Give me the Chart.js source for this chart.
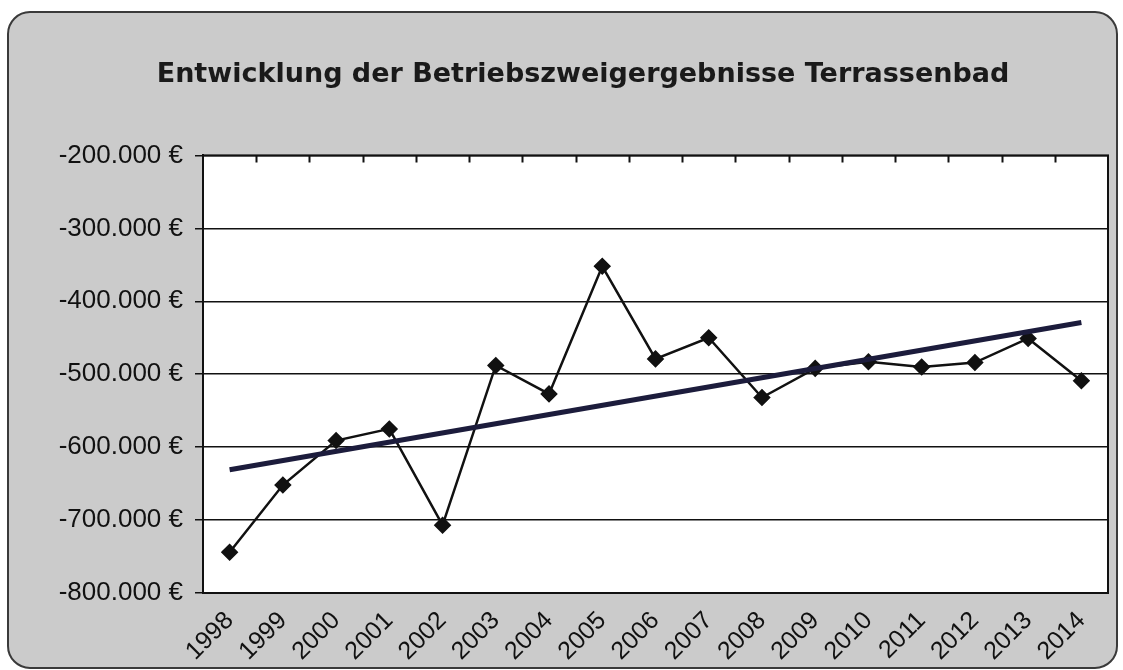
<!DOCTYPE html>
<html lang="de">
<head>
<meta charset="utf-8">
<title>Entwicklung der Betriebszweigergebnisse Terrassenbad</title>
<script src="https://cdn.jsdelivr.net/npm/chart.js@4.4.1/dist/chart.umd.min.js"></script>
<style>
  html, body { margin: 0; padding: 0; background: #fff; }
  #wrap { width: 1123px; height: 670px; position: relative; }
</style>
</head>
<body>
<div id="wrap"><canvas id="ergebnisChart"></canvas></div>
<script>
// Daten
const jahre = ['1998', '1999', '2000', '2001', '2002', '2003', '2004', '2005', '2006',
               '2007', '2008', '2009', '2010', '2011', '2012', '2013', '2014'];
const ergebnisse = [-744000, -652000, -591000, -575000, -707000, -488000, -527000, -352000, -479000,
                    -450000, -532000, -492000, -483000, -490000, -484000, -451000, -509000];
// Trendlinie: Anfangs- und Endwert
const trendWerte = [-631000, -429000];
// Achse
const yMin = -800000;
const yMax = -200000;
const yStep = 100000;

const trendDaten = jahre.map((j, i) => {
    if (i === 0) return trendWerte[0];
    if (i === jahre.length - 1) return trendWerte[1];
    return null;
});

function euro(v) {
    const s = Math.abs(v).toString().replace(/\B(?=(\d{3})+(?!\d))/g, '.');
    return (v < 0 ? '-' : '') + s + ' €';
}

const schrift = "'Liberation Sans', Arial, sans-serif";

// Hintergrundkarte und weiße Zeichenfläche
const hintergrund = {
    id: 'hintergrund',
    beforeDraw(chart) {
        const c = chart.ctx;
        const a = chart.chartArea;
        c.save();
        c.beginPath();
        c.roundRect(8, 12, 1109, 656, 22);
        c.fillStyle = '#cbcbcb';
        c.fill();
        c.lineWidth = 2;
        c.strokeStyle = '#3a3a3a';
        c.stroke();
        c.fillStyle = '#ffffff';
        c.fillRect(a.left, a.top, a.right - a.left, a.bottom - a.top);
        c.restore();
    },
    afterDatasetsDraw(chart) {
        const c = chart.ctx;
        const a = chart.chartArea;
        const x = chart.scales.x;
        c.save();
        c.strokeStyle = '#111';
        c.lineWidth = 2;
        c.strokeRect(a.left, a.top, a.right - a.left, a.bottom - a.top);
        // kleine Teilstriche oben zwischen den Kategorien
        c.beginPath();
        for (let i = 1; i < jahre.length; i++) {
            const px = Math.round((x.getPixelForValue(i - 1) + x.getPixelForValue(i)) / 2) + 0.5;
            c.moveTo(px, a.top);
            c.lineTo(px, a.top + 7);
        }
        c.stroke();
        c.restore();
    }
};

new Chart(document.getElementById('ergebnisChart'), {
    type: 'line',
    data: {
        labels: jahre,
        datasets: [{
            label: 'Ergebnis',
            data: ergebnisse,
            borderColor: '#111',
            backgroundColor: '#111',
            borderWidth: 2.5,
            pointStyle: 'rectRot',
            pointRadius: 7,
            pointBackgroundColor: '#111',
            pointBorderColor: '#111',
            tension: 0,
            order: 2
        }, {
            label: 'Trend',
            data: trendDaten,
            borderColor: '#1c1c3c',
            borderWidth: 5,
            pointRadius: 0,
            spanGaps: true,
            tension: 0,
            order: 1
        }]
    },
    options: {
        responsive: true,
        maintainAspectRatio: false,
        animation: false,
        layout: {
            padding: { left: 58, right: 15, top: 0, bottom: 0 }
        },
        plugins: {
            legend: { display: false },
            tooltip: { enabled: false },
            title: {
                display: true,
                text: 'Entwicklung der Betriebszweigergebnisse Terrassenbad',
                color: '#1a1a1a',
                font: { family: "'DejaVu Sans', sans-serif", size: 27, weight: 'bold' },
                padding: { top: 59, bottom: 64 }
            }
        },
        scales: {
            x: {
                offset: true,
                grid: { display: false },
                border: { display: true, color: '#111', width: 2 },
                ticks: {
                    minRotation: 45,
                    maxRotation: 45,
                    autoSkip: false,
                    padding: 5,
                    color: '#111',
                    font: { family: schrift, size: 25 }
                },
                afterFit(scale) { scale.height = 77; }
            },
            y: {
                min: yMin,
                max: yMax,
                grid: { color: '#111', lineWidth: 1.5, tickLength: 8 },
                border: { display: true, color: '#111', width: 2 },
                ticks: {
                    stepSize: yStep,
                    padding: 12,
                    color: '#111',
                    font: { family: schrift, size: 26 },
                    callback: (v) => euro(v)
                },
                afterFit(scale) { scale.width = 145; }
            }
        }
    },
    plugins: [hintergrund]
});
</script>
</body>
</html>
